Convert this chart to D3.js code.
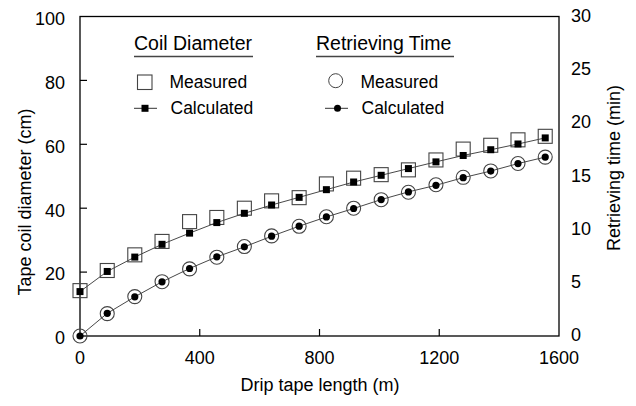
<!DOCTYPE html>
<html>
<head>
<meta charset="utf-8">
<script src="https://cdn.jsdelivr.net/npm/d3@7"></script>
<style>
  body { margin: 0; background: #fff; }
  svg text { font-family: "Liberation Sans", Arial, sans-serif; fill: #000; }
</style>
</head>
<body>
<svg id="chart" width="636" height="406"></svg>
<script>
// tape length (m), one reading every 300 ft
var lengths = [0, 91, 183, 274, 366, 457, 549, 640, 732, 823, 914, 1006, 1097, 1189, 1280, 1372, 1463, 1554];
// coil diameter (cm)
var diamMeasured = [14.2, 20.5, 25.4, 29.6, 35.8, 37.1, 40.0, 42.3, 43.3, 47.6, 49.4, 50.5, 52.0, 55.1, 58.5, 59.7, 61.4, 62.5];
var diamCalculated = [13.9, 20.2, 24.7, 28.7, 32.2, 35.5, 38.4, 41.0, 43.4, 45.8, 48.2, 50.3, 52.4, 54.5, 56.5, 58.3, 60.1, 62.0];
// retrieving time (min)
var timeMeasured = [0, 2.1, 3.7, 5.1, 6.3, 7.4, 8.4, 9.4, 10.3, 11.2, 12.0, 12.8, 13.5, 14.2, 14.9, 15.5, 16.2, 16.8];
var timeCalculated = [0, 2.13, 3.68, 5.09, 6.34, 7.43, 8.37, 9.37, 10.31, 11.18, 11.97, 12.81, 13.53, 14.15, 14.87, 15.49, 16.19, 16.8];

var xTicks = [0, 400, 800, 1200, 1600];
var yLeftTicks = [0, 20, 40, 60, 80, 100];
var yRightTicks = [0, 5, 10, 15, 20, 25, 30];

(function() {
  var svg = d3.select('#chart');
  var pLeft = 80, pRight = 559, pTop = 16.5, pBottom = 336;

  var x = d3.scaleLinear().domain([0, 1600]).range([pLeft, pRight]);
  var yL = d3.scaleLinear().domain([0, 100]).range([pBottom, pTop]);
  var yR = d3.scaleLinear().domain([0, 30]).range([pBottom, pTop]);

  // frame
  svg.append('rect')
      .attr('x', pLeft).attr('y', pTop)
      .attr('width', pRight - pLeft).attr('height', pBottom - pTop)
      .attr('fill', 'none').attr('stroke', '#000').attr('stroke-width', 1.3);

  // inward ticks
  svg.selectAll('.ytick').data(yLeftTicks.slice(1, -1)).enter().append('line')
      .attr('x1', pLeft).attr('x2', pLeft + 7)
      .attr('y1', function(d) { return yL(d); }).attr('y2', function(d) { return yL(d); })
      .attr('stroke', '#000').attr('stroke-width', 1.2);
  svg.selectAll('.xtick').data(xTicks.slice(1, -1)).enter().append('line')
      .attr('x1', function(d) { return x(d); }).attr('x2', function(d) { return x(d); })
      .attr('y1', pBottom).attr('y2', pBottom - 7)
      .attr('stroke', '#000').attr('stroke-width', 1.2);

  // tick labels
  svg.selectAll('.ylab').data(yLeftTicks).enter().append('text')
      .attr('x', 65).attr('y', function(d) { return yL(d) + 2; })
      .attr('dy', '0.35em').attr('text-anchor', 'end')
      .style('font-size', '18px').text(function(d) { return d; });
  svg.selectAll('.rlab').data(yRightTicks).enter().append('text')
      .attr('x', 571).attr('y', function(d) { return yR(d) - 1; })
      .attr('dy', '0.35em').attr('text-anchor', 'start')
      .style('font-size', '18px').text(function(d) { return d; });
  svg.selectAll('.xlab').data(xTicks).enter().append('text')
      .attr('x', function(d) { return x(d); }).attr('y', 364)
      .attr('text-anchor', 'middle')
      .style('font-size', '18px').text(function(d) { return d; });

  // axis titles
  svg.append('text').attr('x', 320).attr('y', 391).attr('text-anchor', 'middle')
      .style('font-size', '18px').text('Drip tape length (m)');
  svg.append('text').attr('transform', 'translate(31,202) rotate(-90)').attr('text-anchor', 'middle')
      .style('font-size', '18px').text('Tape coil diameter (cm)');
  svg.append('text').attr('transform', 'translate(620,168) rotate(-90)').attr('text-anchor', 'middle')
      .style('font-size', '18px').text('Retrieving time (min)');

  // series
  var lineD = d3.line().x(function(d, i) { return x(lengths[i]); }).y(function(d) { return yL(d); });
  var lineT = d3.line().x(function(d, i) { return x(lengths[i]); }).y(function(d) { return yR(d); });

  svg.append('path').datum(diamCalculated).attr('d', lineD)
      .attr('fill', 'none').attr('stroke', '#333').attr('stroke-width', 0.9);
  svg.append('path').datum(timeCalculated).attr('d', lineT)
      .attr('fill', 'none').attr('stroke', '#333').attr('stroke-width', 0.9);

  svg.selectAll('.dm').data(diamMeasured).enter().append('rect')
      .attr('x', function(d, i) { return x(lengths[i]) - 7; })
      .attr('y', function(d) { return yL(d) - 7; })
      .attr('width', 14).attr('height', 14)
      .attr('fill', 'none').attr('stroke', '#444').attr('stroke-width', 1.1);
  svg.selectAll('.dc').data(diamCalculated).enter().append('rect')
      .attr('x', function(d, i) { return x(lengths[i]) - 3.5; })
      .attr('y', function(d) { return yL(d) - 3.5; })
      .attr('width', 7).attr('height', 7).attr('fill', '#000');

  svg.selectAll('.tm').data(timeMeasured).enter().append('circle')
      .attr('cx', function(d, i) { return x(lengths[i]); })
      .attr('cy', function(d) { return yR(d); })
      .attr('r', 7).attr('fill', 'none').attr('stroke', '#444').attr('stroke-width', 1.1);
  svg.selectAll('.tc').data(timeCalculated).enter().append('circle')
      .attr('cx', function(d, i) { return x(lengths[i]); })
      .attr('cy', function(d) { return yR(d); })
      .attr('r', 3.6).attr('fill', '#000');

  // legend
  function legendGroup(gx, title, underlineW, kind) {
    var g = svg.append('g').attr('transform', 'translate(' + gx + ',0)');
    g.append('text').attr('x', 0).attr('y', 50).style('font-size', '19.5px').text(title);
    g.append('line').attr('x1', 0).attr('x2', underlineW).attr('y1', 56.5).attr('y2', 56.5)
        .attr('stroke', '#444').attr('stroke-width', 1.6);
    if (kind === 'square') {
      g.append('rect').attr('x', 3.5).attr('y', 75).attr('width', 14.5).attr('height', 14.5)
          .attr('fill', 'none').attr('stroke', '#444').attr('stroke-width', 1.1);
      g.append('line').attr('x1', 0).attr('x2', 23).attr('y1', 108.3).attr('y2', 108.3)
          .attr('stroke', '#333').attr('stroke-width', 1);
      g.append('rect').attr('x', 7.5).attr('y', 104.8).attr('width', 7).attr('height', 7).attr('fill', '#000');
    } else {
      g.append('circle').attr('cx', 19.7).attr('cy', 80.7).attr('r', 7)
          .attr('fill', 'none').attr('stroke', '#444').attr('stroke-width', 1);
      g.append('line').attr('x1', 9).attr('x2', 32).attr('y1', 108.3).attr('y2', 108.3)
          .attr('stroke', '#333').attr('stroke-width', 1);
      g.append('circle').attr('cx', 21.5).attr('cy', 108.3).attr('r', 3.5).attr('fill', '#000');
    }
    return g;
  }
  var g1 = legendGroup(134, 'Coil Diameter', 119, 'square');
  g1.append('text').attr('x', 35.5).attr('y', 88).style('font-size', '17.5px').text('Measured');
  g1.append('text').attr('x', 36.5).attr('y', 114).style('font-size', '17.5px').text('Calculated');
  var g2 = legendGroup(316, 'Retrieving Time', 138, 'circle');
  g2.append('text').attr('x', 44.5).attr('y', 88).style('font-size', '17.5px').text('Measured');
  g2.append('text').attr('x', 45.5).attr('y', 114).style('font-size', '17.5px').text('Calculated');
})();
</script>
</body>
</html>
